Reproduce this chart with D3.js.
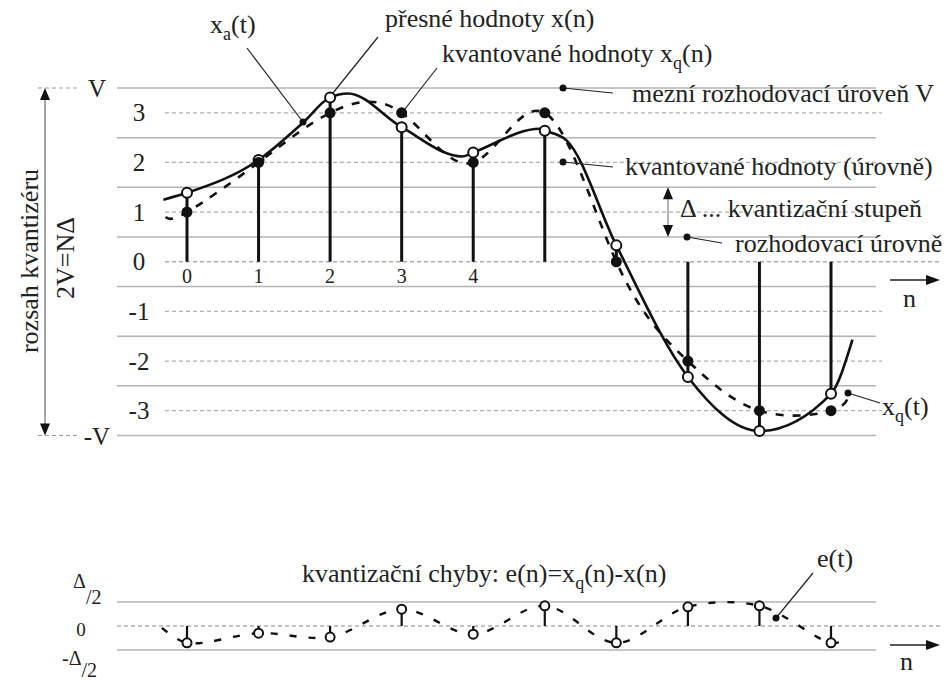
<!DOCTYPE html>
<html><head><meta charset="utf-8">
<script src="https://cdn.jsdelivr.net/npm/d3@7"></script>
<style>
html,body{margin:0;padding:0;background:#fff;}
</style></head><body>
<svg id="chart" width="946" height="680" font-family="'Liberation Serif', 'DejaVu Serif', serif"></svg>
<script>
// Sample indices and values (in quantization steps Δ)
const samples = [0, 1, 2, 3, 4, 5, 6, 7, 8, 9];
const sampleLabels = ["0", "1", "2", "3", "4"];
const exactValues = [1.39, 2.05, 3.31, 2.71, 2.2, 2.64, 0.33, -2.32, -3.41, -2.66];
const quantizedValues = [1, 2, 3, 3, 2, 3, 0, -2, -3, -3];
const errorValues = [-0.35, -0.15, -0.23, 0.35, -0.17, 0.42, -0.35, 0.4, 0.42, -0.35];

// Quantization levels and decision levels
const levelValues = [3, 2, 1, 0, -1, -2, -3];
const levelLabels = ["3", "2", "1", "0", "-1", "-2", "-3"];
const decisionValues = [3.5, 2.5, 1.5, 0.5, -0.5, -1.5, -2.5, -3.5];

// Knots of the continuous signal x_a(t)
const analogT = [-0.33, 0, 1, 1.62, 2, 2.25, 3, 3.85, 4, 4.93, 5, 5.3, 6, 7, 8, 9, 9.3];
const analogX = [1.25, 1.39, 2.05, 2.80, 3.31, 3.39, 2.71, 2.12, 2.2, 2.68, 2.64, 2.45, 0.33, -2.32, -3.41, -2.66, -1.57];

// Ends of the quantized curve x_q(t) and of the error curve e(t)
const quantStart = [-0.3, 0.9], quantEnd = [9.25, -2.65];
const errorStart = [-0.35, -0.04], errorEnd = [9.2, -0.3];

const svg = d3.select("#chart");
const x = d3.scaleLinear().domain([0, 9]).range([187, 831]);
const y = d3.scaleLinear().domain([-3.5, 3.5]).range([435.5, 88]);
const ye = d3.scaleLinear().domain([-0.5, 0.5]).range([650, 602]);

const gridGray = "#b4b4b4";
const ink = "#222";

// ---------- upper panel: levels ----------
const upper = svg.append("g");
upper.selectAll("line.decision").data(decisionValues).join("line")
  .attr("x1", 117).attr("x2", 876)
  .attr("y1", d => y(d)).attr("y2", d => y(d))
  .attr("stroke", gridGray).attr("stroke-width", 1.5);

upper.selectAll("line.level").data(levelValues).join("line")
  .attr("x1", 165).attr("x2", d => d === 0 ? 940 : 882)
  .attr("y1", d => y(d)).attr("y2", d => y(d))
  .attr("stroke", "#b0b0b0").attr("stroke-width", 1.3)
  .attr("stroke-dasharray", "4,3");

// short dashed extensions of ±V towards the range arrow
[3.5, -3.5].forEach(v => {
  upper.append("line").attr("x1", 38).attr("x2", 78)
    .attr("y1", y(v)).attr("y2", y(v))
    .attr("stroke", "#999").attr("stroke-width", 1.2).attr("stroke-dasharray", "4,3");
});

upper.selectAll("text.level").data(levelValues).join("text")
  .attr("x", 139).attr("y", d => y(d) + 8.5)
  .attr("text-anchor", "middle").attr("font-size", 25).attr("fill", ink)
  .text((d, i) => levelLabels[i]);
upper.append("text").attr("x", 97).attr("y", y(3.5) + 9).attr("text-anchor", "middle")
  .attr("font-size", 25).attr("fill", ink).text("V");
upper.append("text").attr("x", 97).attr("y", y(-3.5) + 9).attr("text-anchor", "middle")
  .attr("font-size", 25).attr("fill", ink).text("-V");

// quantizer range arrow
upper.append("line").attr("x1", 45).attr("x2", 45).attr("y1", y(3.5) + 6).attr("y2", y(-3.5) - 6)
  .attr("stroke", "#888").attr("stroke-width", 1.5);
upper.append("path").attr("d", `M45,${y(3.5)} l-5,12 h10 Z`).attr("fill", "#111");
upper.append("path").attr("d", `M45,${y(-3.5)} l-5,-12 h10 Z`).attr("fill", "#111");
upper.append("text").attr("transform", "translate(38,261) rotate(-90)")
  .attr("text-anchor", "middle").attr("font-size", 26).attr("fill", ink).text("rozsah kvantizéru");
upper.append("text").attr("transform", "translate(74,258) rotate(-90)")
  .attr("text-anchor", "middle").attr("font-size", 26).attr("fill", ink).text("2V=NΔ");

// n axis arrow (upper)
upper.append("line").attr("x1", 890).attr("x2", 928).attr("y1", 280).attr("y2", 280)
  .attr("stroke", ink).attr("stroke-width", 1.3);
upper.append("path").attr("d", "M940,280 l-14,-5 v10 Z").attr("fill", "#111");
upper.append("text").attr("x", 903).attr("y", 307).attr("font-size", 26).attr("fill", ink).text("n");

// stems to the exact sample values
upper.selectAll("line.stem").data(samples).join("line")
  .attr("x1", d => x(d)).attr("x2", d => x(d))
  .attr("y1", y(0)).attr("y2", (d, i) => y(exactValues[i]))
  .attr("stroke", "#111").attr("stroke-width", 3);

upper.selectAll("text.n").data(sampleLabels).join("text")
  .attr("x", (d, i) => x(samples[i])).attr("y", 283)
  .attr("text-anchor", "middle").attr("font-size", 20).attr("fill", ink).text(d => d);

// continuous signal x_a(t)
const analogLine = d3.line().x(d => x(d[0])).y(d => y(d[1])).curve(d3.curveMonotoneX);
upper.append("path").datum(analogT.map((t, i) => [t, analogX[i]]))
  .attr("d", analogLine).attr("fill", "none").attr("stroke", "#111").attr("stroke-width", 2.6);

// quantized curve x_q(t)
const quantPts = [quantStart, ...samples.map((s, i) => [s, quantizedValues[i]]), quantEnd];
const quantLine = d3.line().x(d => x(d[0])).y(d => y(d[1])).curve(d3.curveNatural);
upper.append("path").datum(quantPts)
  .attr("d", quantLine).attr("fill", "none").attr("stroke", "#111").attr("stroke-width", 2.6)
  .attr("stroke-dasharray", "8,9");

// exact values (open) beneath quantized values (filled)
upper.selectAll("circle.e").data(samples).join("circle")
  .attr("cx", d => x(d)).attr("cy", (d, i) => y(exactValues[i]))
  .attr("r", 5).attr("fill", "#fff").attr("stroke", "#111").attr("stroke-width", 2);
upper.selectAll("circle.q").data(samples).join("circle")
  .attr("cx", d => x(d)).attr("cy", (d, i) => y(quantizedValues[i]))
  .attr("r", 5.5).attr("fill", "#111");

// ---------- annotations ----------
// leader line; dot: "end", "start" or none
function pointer(x1, y1, x2, y2, dot) {
  svg.append("line").attr("x1", x1).attr("y1", y1).attr("x2", x2).attr("y2", y2)
    .attr("stroke", ink).attr("stroke-width", 1.2);
  if (dot) {
    const cx = dot === "end" ? x2 : x1, cy = dot === "end" ? y2 : y1;
    svg.append("circle").attr("cx", cx).attr("cy", cy).attr("r", 3.5).attr("fill", "#111");
  }
}
// label with optional subscript
function label(xp, yp, before, sub, after, size) {
  const t = svg.append("text").attr("x", xp).attr("y", yp)
    .attr("font-size", size || 26).attr("fill", ink);
  t.append("tspan").text(before);
  if (sub) {
    t.append("tspan").attr("font-size", 18).attr("dy", 7).text(sub);
    t.append("tspan").attr("dy", -7).text(after);
  }
  return t;
}

label(210, 33, "x", "a", "(t)");
pointer(247, 48, 303, 122, "end");

label(385, 27, "přesné hodnoty x(n)");
pointer(378, 37, 333, 93);

label(442, 62, "kvantované hodnoty x", "q", "(n)");
pointer(437, 68, 405, 109);

label(632, 102, "mezní rozhodovací úroveň V");
pointer(613, 93, 563, 88, "end");

label(625, 175, "kvantované hodnoty (úrovně)");
pointer(613, 167, 563, 162, "end");

// quantization step arrow
svg.append("line").attr("x1", 668).attr("x2", 668).attr("y1", y(1.5) + 6).attr("y2", y(0.5) - 6)
  .attr("stroke", "#888").attr("stroke-width", 1.3);
svg.append("path").attr("d", `M668,${y(1.5)} l-5,12 h10 Z`).attr("fill", "#111");
svg.append("path").attr("d", `M668,${y(0.5)} l-5,-12 h10 Z`).attr("fill", "#111");
label(680, 217, "Δ ... kvantizační stupeň");

label(735, 252, "rozhodovací úrovně");
pointer(722, 243, 687, 237, "end");

label(882, 415, "x", "q", "(t)");
pointer(880, 403, 848, 393, "end");

// ---------- lower panel: quantization error ----------
const lower = svg.append("g");
[0.5, -0.5].forEach(v => {
  lower.append("line").attr("x1", 117).attr("x2", 876).attr("y1", ye(v)).attr("y2", ye(v))
    .attr("stroke", gridGray).attr("stroke-width", 1.5);
});
lower.append("line").attr("x1", 117).attr("x2", 940).attr("y1", ye(0)).attr("y2", ye(0))
  .attr("stroke", "#b0b0b0").attr("stroke-width", 1.3).attr("stroke-dasharray", "4,3");

const halfUp = lower.append("text").attr("x", 73).attr("y", 588).attr("font-size", 20).attr("fill", ink);
halfUp.append("tspan").text("Δ");
halfUp.append("tspan").attr("dy", 16).text("/2");
lower.append("text").attr("x", 81).attr("y", 636).attr("text-anchor", "middle")
  .attr("font-size", 19).attr("fill", ink).text("0");
const halfDown = lower.append("text").attr("x", 62).attr("y", 665).attr("font-size", 20).attr("fill", ink);
halfDown.append("tspan").text("-Δ");
halfDown.append("tspan").attr("dy", 12).text("/2");

label(302, 582, "kvantizační chyby: e(n)=x", "q", "(n)-x(n)");
label(817, 567, "e(t)");
pointer(813, 573, 776, 618, "end");

lower.append("line").attr("x1", 890).attr("x2", 928).attr("y1", 645).attr("y2", 645)
  .attr("stroke", ink).attr("stroke-width", 1.3);
lower.append("path").attr("d", "M940,645 l-14,-5 v10 Z").attr("fill", "#111");
lower.append("text").attr("x", 900).attr("y", 670).attr("font-size", 26).attr("fill", ink).text("n");

const errPts = [errorStart, ...samples.map((s, i) => [s, errorValues[i]]), errorEnd];
const errLine = d3.line().x(d => x(d[0])).y(d => ye(d[1])).curve(d3.curveCatmullRom.alpha(0.5));
lower.append("path").datum(errPts).attr("d", errLine)
  .attr("fill", "none").attr("stroke", "#111").attr("stroke-width", 2.4).attr("stroke-dasharray", "7,12");

lower.selectAll("line.estem").data(samples).join("line")
  .attr("x1", d => x(d)).attr("x2", d => x(d))
  .attr("y1", ye(0)).attr("y2", (d, i) => ye(errorValues[i]))
  .attr("stroke", "#111").attr("stroke-width", 2.2);
lower.selectAll("circle.err").data(samples).join("circle")
  .attr("cx", d => x(d)).attr("cy", (d, i) => ye(errorValues[i]))
  .attr("r", 4.5).attr("fill", "#fff").attr("stroke", "#111").attr("stroke-width", 2);
</script>
</body></html>
